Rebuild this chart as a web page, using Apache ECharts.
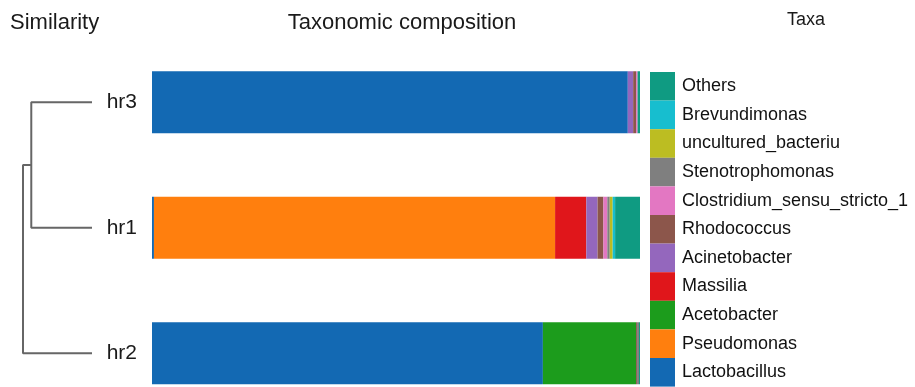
<!DOCTYPE html>
<html><head><meta charset="utf-8">
<script src="https://cdn.jsdelivr.net/npm/echarts@6/dist/echarts.min.js"></script>
<style>html,body{margin:0;padding:0;background:#fff}#c{width:915px;height:387px}</style>
</head><body><div id="c"></div>
<script>
// samples, bottom to top
var samples = ['hr2', 'hr1', 'hr3'];
// taxa in stacking order (left to right)
var taxa = ['Lactobacillus','Pseudomonas','Acetobacter','Massilia','Acinetobacter','Rhodococcus',
  'Clostridium_sensu_stricto_1','Stenotrophomonas','uncultured_bacteriu','Brevundimonas','Others'];
var colors = ['#1369b3','#ff7f0e','#1c9c1c','#e0161b','#9467bd','#8c564b',
  '#e377c2','#7f7f7f','#bcbd22','#17becf','#0f9b82'];
// relative abundance (%) per taxon for [hr2, hr1, hr3]
var Lactobacillus = [80.1, 0.4, 97.5];
var Pseudomonas = [0, 82.2, 0];
var Acetobacter = [19.1, 0, 0];
var Massilia = [0, 6.4, 0];
var Acinetobacter = [0, 2.3, 1.1];
var Rhodococcus = [0.2, 1.2, 0.6];
var Clostridium = [0, 0.8, 0.3];
var Stenotrophomonas = [0.4, 0.5, 0];
var Uncultured = [0, 0.6, 0];
var Brevundimonas = [0, 0.5, 0];
var Others = [0.2, 5.1, 0.5];
var values = [Lactobacillus, Pseudomonas, Acetobacter, Massilia, Acinetobacter, Rhodococcus,
  Clostridium, Stenotrophomonas, Uncultured, Brevundimonas, Others];
// dendrogram (distance, sample index): hr3+hr1 merge at 0.88, root at 1.0
var branchA = [[0, 2], [0.88, 2], [0.88, 1], [0, 1]];
var branchB = [[0.88, 1.5], [1, 1.5], [1, 0], [0, 0]];

var font = '"Liberation Sans", Arial, sans-serif';
var chart = echarts.init(document.getElementById('c'));
var series = taxa.map(function (t, i) {
  return {
    name: t, type: 'bar', stack: 'tot', xAxisIndex: 0, yAxisIndex: 0,
    barWidth: 62, data: values[i], itemStyle: { color: colors[i] }, silent: true
  };
});
series.push({ type: 'line', xAxisIndex: 1, yAxisIndex: 1, data: branchA, showSymbol: false,
  lineStyle: { color: '#666', width: 2 }, silent: true });
series.push({ type: 'line', xAxisIndex: 1, yAxisIndex: 1, data: branchB, showSymbol: false,
  lineStyle: { color: '#666', width: 2 }, silent: true });

chart.setOption({
  animation: false,
  textStyle: { fontFamily: font },
  title: [
    { text: 'Similarity', left: 5, top: 7, textStyle: { fontSize: 22, fontWeight: 'normal', color: '#1a1a1a', fontFamily: font } },
    { text: 'Taxonomic composition', left: 397, top: 7, textAlign: 'center', textStyle: { fontSize: 22, fontWeight: 'normal', color: '#1a1a1a', fontFamily: font } },
    { text: 'Taxa', left: 801, top: 6, textAlign: 'center', textStyle: { fontSize: 18, fontWeight: 'normal', color: '#1a1a1a', fontFamily: font } }
  ],
  legend: {
    orient: 'vertical', left: 650, top: 72, padding: 0, itemWidth: 25, itemHeight: 28.6, itemGap: 0,
    icon: 'rect', selectedMode: false,
    data: taxa.slice().reverse(),
    itemStyle: { borderWidth: 0 },
    textStyle: { fontSize: 18, color: '#111', fontFamily: font, padding: [0, 0, 0, 2] }
  },
  grid: [
    { left: 152, width: 488, top: 39.5, height: 376.5, outerBoundsMode: 'none' },
    { left: 23, width: 69, top: 39.5, height: 376.5, outerBoundsMode: 'none' }
  ],
  xAxis: [
    { type: 'value', gridIndex: 0, min: 0, max: 100, show: false },
    { type: 'value', gridIndex: 1, min: 0, max: 1, inverse: true, show: false }
  ],
  yAxis: [
    { type: 'category', gridIndex: 0, data: samples, axisLine: { show: false }, axisTick: { show: false },
      axisLabel: { fontSize: 21, color: '#1a1a1a', margin: 15, fontFamily: font } },
    { type: 'value', gridIndex: 1, min: -0.5, max: 2.5, show: false }
  ],
  series: series
});
</script></body></html>
